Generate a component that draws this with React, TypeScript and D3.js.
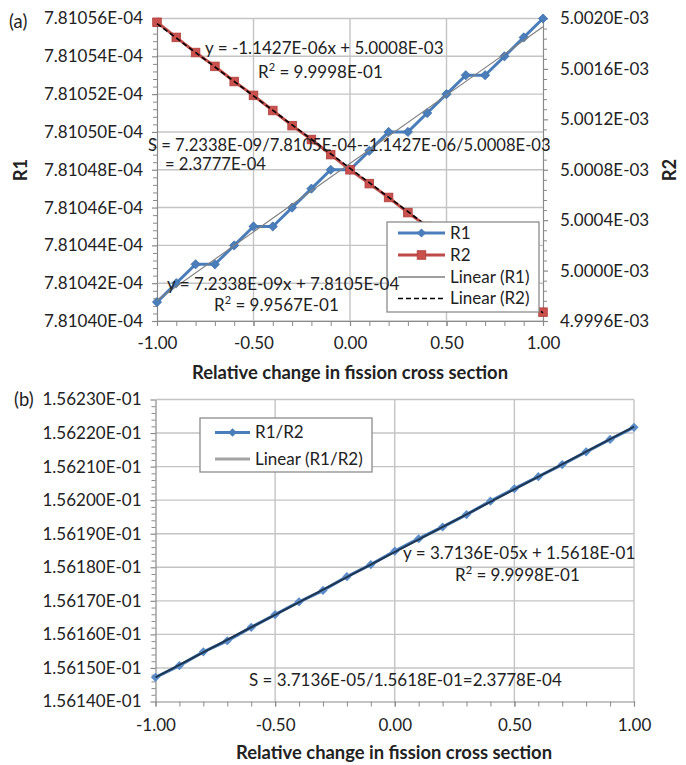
import React, { useEffect, useRef } from 'react';
import * as d3 from 'd3';

// relative change in fission cross section
const xValues = [-1.0, -0.9, -0.8, -0.7, -0.6, -0.5, -0.4, -0.3, -0.2, -0.1, 0.0, 0.1, 0.2, 0.3, 0.4, 0.5, 0.6, 0.7, 0.8, 0.9, 1.0];

const r1Values = [
  7.81041e-4, 7.81042e-4, 7.81043e-4, 7.81043e-4, 7.81044e-4, 7.81045e-4, 7.81045e-4,
  7.81046e-4, 7.81047e-4, 7.81048e-4, 7.81048e-4, 7.81049e-4, 7.8105e-4, 7.8105e-4,
  7.81051e-4, 7.81052e-4, 7.81053e-4, 7.81053e-4, 7.81054e-4, 7.81055e-4, 7.81056e-4,
];

const r2Values = [
  5.00197e-3, 5.00185e-3, 5.00173e-3, 5.00162e-3, 5.0015e-3, 5.00139e-3, 5.00127e-3,
  5.00115e-3, 5.00104e-3, 5.00092e-3, 5.0008e-3, 5.00069e-3, 5.00058e-3, 5.00046e-3,
  5.00035e-3, 5.00024e-3, 5.00012e-3, 5.00001e-3, 4.9999e-3, 4.99979e-3, 4.99967e-3,
];

const ratioValues = [
  1.561472e-1, 1.561507e-1, 1.561548e-1, 1.561581e-1, 1.561621e-1, 1.561659e-1, 1.561697e-1,
  1.561731e-1, 1.561772e-1, 1.561808e-1, 1.561848e-1, 1.561885e-1, 1.56192e-1, 1.561957e-1,
  1.561997e-1, 1.562034e-1, 1.56207e-1, 1.562106e-1, 1.562144e-1, 1.562181e-1, 1.562217e-1,
];

const xTickValues = [-1, -0.5, 0, 0.5, 1];
const r1TickValues = [7.8104e-4, 7.81042e-4, 7.81044e-4, 7.81046e-4, 7.81048e-4, 7.8105e-4, 7.81052e-4, 7.81054e-4, 7.81056e-4];
const r2TickValues = [4.9996e-3, 5.0e-3, 5.0004e-3, 5.0008e-3, 5.0012e-3, 5.0016e-3, 5.002e-3];
const ratioTickValues = [1.5614e-1, 1.5615e-1, 1.5616e-1, 1.5617e-1, 1.5618e-1, 1.5619e-1, 1.562e-1, 1.5621e-1, 1.5622e-1, 1.5623e-1];

const xTitle = 'Relative change in fission cross section';
const legendA = ['R1', 'R2', 'Linear (R1)', 'Linear (R2)'];
const legendB = ['R1/R2', 'Linear (R1/R2)'];

const eqR1 = 'y = 7.2338E-09x + 7.8105E-04';
const rsqR1 = '9.9567E-01';
const eqR2 = 'y = -1.1427E-06x + 5.0008E-03';
const rsqR2 = '9.9998E-01';
const sensA = ['S = 7.2338E-09/7.8105E-04--1.1427E-06/5.0008E-03', '= 2.3777E-04'];
const eqRatio = 'y = 3.7136E-05x + 1.5618E-01';
const rsqRatio = '9.9998E-01';
const sensB = 'S = 3.7136E-05/1.5618E-01=2.3778E-04';

const W = 686;
const H = 765;

const expLabel = (digits: number) => (v: number) => {
  const [m, e] = v.toExponential(digits).split('e');
  const n = +e;
  return `${m}E${n < 0 ? '-' : '+'}${String(Math.abs(n)).padStart(2, '0')}`;
};

// least squares fit, like Excel's linear trendline
const fit = (xs: number[], ys: number[]) => {
  const mx = d3.mean(xs) as number;
  const my = d3.mean(ys) as number;
  const sxy = d3.sum(xs, (x, i) => (x - mx) * (ys[i] - my));
  const sxx = d3.sum(xs, x => (x - mx) ** 2);
  const b = sxy / sxx;
  return (x: number) => my + b * (x - mx);
};

const minorTicks = (major: number[], n: number) => {
  const out: number[] = [];
  for (let i = 0; i < major.length - 1; i++) {
    for (let k = 1; k < n; k++) out.push(major[i] + (major[i + 1] - major[i]) * k / n);
  }
  return out;
};

const diamond = (r: number) => `M0,${-r}L${r},0L0,${r}L${-r},0Z`;

const App = () => {
  const svgRef = useRef<SVGSVGElement>(null);

  useEffect(() => {
    const svg = d3.select(svgRef.current);
    svg.selectAll('*').remove();

    const font = 'Lato, "Open Sans", sans-serif';
    const fs = 17;
    const titleFs = 18.4;
    const textColor = '#222';
    const gridColor = '#c4c4c4';
    const axisColor = '#8a8a8a';
    const blue = '#4a7ebb';
    const red = '#be4b48';

    svg.append('rect').attr('width', W).attr('height', H).attr('fill', '#fff');

    const styleAxis = (g: any) => {
      g.attr('font-family', font).attr('font-size', fs).attr('color', textColor);
      g.select('.domain').attr('stroke', axisColor).attr('stroke-width', 1.2);
      g.selectAll('.tick line').attr('stroke', axisColor).attr('stroke-width', 1.2);
    };
    const minorAxis = (g: any) => {
      g.select('.domain').remove();
      g.selectAll('.tick line').attr('stroke', axisColor).attr('stroke-width', 1);
    };

    const label = (g: any, x: number, y: number, str: string, anchor = 'start', bold = false, size = fs) =>
      g.append('text')
        .attr('x', x).attr('y', y).attr('dy', '0.35em')
        .attr('text-anchor', anchor)
        .attr('font-family', font).attr('font-size', size)
        .attr('font-weight', bold ? 700 : 400)
        .attr('fill', textColor)
        .text(str);

    const rsq = (g: any, x: number, y: number, value: string) => {
      const t = g.append('text')
        .attr('x', x).attr('y', y).attr('dy', '0.35em')
        .attr('font-family', font).attr('font-size', fs).attr('fill', textColor);
      t.append('tspan').text('R');
      t.append('tspan').attr('dy', -7).attr('font-size', 11).text('2');
      t.append('tspan').attr('dy', 7).text(` = ${value}`);
    };

    const pts = (ys: number[]) => xValues.map((x, i) => [x, ys[i]] as [number, number]);

    // ---------- panel (a) ----------
    const xA = d3.scaleLinear().domain([-1, 1]).range([157, 543]);
    const yR1 = d3.scaleLinear().domain([r1TickValues[0], r1TickValues[r1TickValues.length - 1]]).range([321, 18.5]);
    const yR2 = d3.scaleLinear().domain([r2TickValues[0], r2TickValues[r2TickValues.length - 1]]).range([321, 18.5]);
    const a = svg.append('g');

    a.selectAll('.hgrid').data(r1TickValues).join('line')
      .attr('x1', xA(-1)).attr('x2', xA(1))
      .attr('y1', d => yR1(d)).attr('y2', d => yR1(d))
      .attr('stroke', gridColor).attr('stroke-width', 1.4);
    a.selectAll('.vgrid').data([-0.5, 0, 0.5]).join('line')
      .attr('x1', d => xA(d)).attr('x2', d => xA(d))
      .attr('y1', yR1.range()[0]).attr('y2', yR1.range()[1])
      .attr('stroke', gridColor).attr('stroke-width', 1.4);

    a.append('g').attr('transform', `translate(${xA(-1)},0)`)
      .call(d3.axisLeft(yR1).tickValues(minorTicks(r1TickValues, 5)).tickSize(4).tickFormat(() => ''))
      .call(minorAxis);
    a.append('g').attr('transform', `translate(${xA(-1)},0)`)
      .call(d3.axisLeft(yR1).tickValues(r1TickValues).tickFormat(expLabel(5)).tickSizeInner(5).tickSizeOuter(0).tickPadding(9))
      .call(styleAxis);
    a.append('g').attr('transform', `translate(${xA(1)},0)`)
      .call(d3.axisRight(yR2).tickValues(minorTicks(r2TickValues, 5)).tickSize(4).tickFormat(() => ''))
      .call(minorAxis);
    a.append('g').attr('transform', `translate(${xA(1)},0)`)
      .call(d3.axisRight(yR2).tickValues(r2TickValues).tickFormat(expLabel(4)).tickSizeInner(5).tickSizeOuter(0).tickPadding(12))
      .call(styleAxis);
    a.append('g').attr('transform', `translate(0,${yR1.range()[0]})`)
      .call(d3.axisBottom(xA).tickValues(d3.range(-10, 11).map(i => i / 10)).tickSize(5).tickFormat(() => ''))
      .call(minorAxis);
    a.append('g').attr('transform', `translate(0,${yR1.range()[0]})`)
      .call(d3.axisBottom(xA).tickValues(xTickValues).tickFormat(d => (+d).toFixed(2)).tickSizeInner(5).tickSizeOuter(0).tickPadding(11))
      .call(styleAxis);

    const lineR1 = d3.line<[number, number]>().x(d => xA(d[0])).y(d => yR1(d[1]));
    const lineR2 = d3.line<[number, number]>().x(d => xA(d[0])).y(d => yR2(d[1]));

    a.append('path').datum(pts(r1Values)).attr('d', lineR1)
      .attr('fill', 'none').attr('stroke', blue).attr('stroke-width', 3).attr('stroke-linejoin', 'round');
    a.selectAll('.m1').data(pts(r1Values)).join('path')
      .attr('d', diamond(4.6)).attr('transform', d => `translate(${xA(d[0])},${yR1(d[1])})`)
      .attr('fill', blue).attr('stroke', '#3f6fa8').attr('stroke-width', 0.8);

    a.append('path').datum(pts(r2Values)).attr('d', lineR2)
      .attr('fill', 'none').attr('stroke', red).attr('stroke-width', 3).attr('stroke-linejoin', 'round');
    a.selectAll('.m2').data(pts(r2Values)).join('rect')
      .attr('x', d => xA(d[0]) - 4.3).attr('y', d => yR2(d[1]) - 4.3)
      .attr('width', 8.6).attr('height', 8.6)
      .attr('fill', '#c9504d').attr('stroke', '#b0403d').attr('stroke-width', 0.8);

    const t1 = fit(xValues, r1Values);
    const t2 = fit(xValues, r2Values);
    a.append('line')
      .attr('x1', xA(-1)).attr('x2', xA(1)).attr('y1', yR1(t1(-1))).attr('y2', yR1(t1(1)))
      .attr('stroke', '#7f7f7f').attr('stroke-width', 1.1);
    a.append('line')
      .attr('x1', xA(-1)).attr('x2', xA(1)).attr('y1', yR2(t2(-1))).attr('y2', yR2(t2(1)))
      .attr('stroke', '#000').attr('stroke-width', 1.6).attr('stroke-dasharray', '5,3');

    // legend (a)
    const lgA = a.append('g');
    lgA.append('rect').attr('x', 387).attr('y', 222).attr('width', 152).attr('height', 90)
      .attr('fill', '#fff').attr('stroke', '#8c8c8c').attr('stroke-width', 1.3);
    const lgAy = [233, 255, 277, 298.5];
    legendA.forEach((name, i) => {
      const y = lgAy[i];
      const ln = lgA.append('line').attr('x1', 398).attr('x2', 445).attr('y1', y).attr('y2', y);
      if (i === 0) ln.attr('stroke', blue).attr('stroke-width', 3);
      if (i === 1) ln.attr('stroke', red).attr('stroke-width', 3);
      if (i === 2) ln.attr('stroke', '#7f7f7f').attr('stroke-width', 1.3);
      if (i === 3) ln.attr('stroke', '#000').attr('stroke-width', 1.6).attr('stroke-dasharray', '5,3');
      if (i === 0) lgA.append('path').attr('d', diamond(4.6)).attr('transform', `translate(421.5,${y})`).attr('fill', blue);
      if (i === 1) lgA.append('rect').attr('x', 421.5 - 4.3).attr('y', y - 4.3).attr('width', 8.6).attr('height', 8.6)
        .attr('fill', '#c9504d').attr('stroke', '#b0403d').attr('stroke-width', 0.8);
      label(lgA, 450, y, name);
    });

    // annotations (a)
    label(a, 205, 48, eqR2);
    rsq(a, 258, 72, rsqR2);
    label(a, 148, 145.5, sensA[0], 'start', false, 16.6);
    label(a, 165, 164.5, sensA[1], 'start', false, 16.6);
    label(a, 167, 284, eqR1);
    rsq(a, 214, 305, rsqR1);

    label(a, 9, 22, '(a)', 'start', false, titleFs);
    label(a, 350, 373, xTitle, 'middle', true, titleFs);
    a.append('text').attr('transform', 'translate(21,170) rotate(-90)').attr('dy', '0.35em')
      .attr('text-anchor', 'middle').attr('font-family', font).attr('font-size', titleFs).attr('font-weight', 700)
      .attr('fill', textColor).text('R1');
    a.append('text').attr('transform', 'translate(670,170) rotate(-90)').attr('dy', '0.35em')
      .attr('text-anchor', 'middle').attr('font-family', font).attr('font-size', titleFs).attr('font-weight', 700)
      .attr('fill', textColor).text('R2');

    // ---------- panel (b) ----------
    const xB = d3.scaleLinear().domain([-1, 1]).range([155.5, 634]);
    const yB = d3.scaleLinear().domain([ratioTickValues[0], ratioTickValues[ratioTickValues.length - 1]]).range([701.5, 399.5]);
    const b = svg.append('g');

    b.selectAll('.hgrid').data(ratioTickValues.slice(1)).join('line')
      .attr('x1', xB(-1)).attr('x2', xB(1))
      .attr('y1', d => yB(d)).attr('y2', d => yB(d))
      .attr('stroke', gridColor).attr('stroke-width', 1.4);
    b.selectAll('.vgrid').data([-0.5, 0, 0.5, 1]).join('line')
      .attr('x1', d => xB(d)).attr('x2', d => xB(d))
      .attr('y1', yB.range()[0]).attr('y2', yB.range()[1])
      .attr('stroke', gridColor).attr('stroke-width', 1.4);

    b.append('g').attr('transform', `translate(${xB(-1)},0)`)
      .call(d3.axisLeft(yB).tickValues(minorTicks(ratioTickValues, 5)).tickSize(4).tickFormat(() => ''))
      .call(minorAxis);
    b.append('g').attr('transform', `translate(${xB(-1)},0)`)
      .call(d3.axisLeft(yB).tickValues(ratioTickValues).tickFormat(expLabel(5)).tickSizeInner(5).tickSizeOuter(0).tickPadding(9))
      .call(styleAxis);
    b.append('g').attr('transform', `translate(0,${yB.range()[0]})`)
      .call(d3.axisBottom(xB).tickValues(d3.range(-10, 11).map(i => i / 10)).tickSize(5).tickFormat(() => ''))
      .call(minorAxis);
    b.append('g').attr('transform', `translate(0,${yB.range()[0]})`)
      .call(d3.axisBottom(xB).tickValues(xTickValues).tickFormat(d => (+d).toFixed(2)).tickSizeInner(5).tickSizeOuter(0).tickPadding(12))
      .call(styleAxis);

    const lineB = d3.line<[number, number]>().x(d => xB(d[0])).y(d => yB(d[1]));
    b.append('path').datum(pts(ratioValues)).attr('d', lineB)
      .attr('fill', 'none').attr('stroke', blue).attr('stroke-width', 3.2).attr('stroke-linejoin', 'round');
    b.selectAll('.m3').data(pts(ratioValues)).join('path')
      .attr('d', diamond(4.6)).attr('transform', d => `translate(${xB(d[0])},${yB(d[1])})`)
      .attr('fill', '#5b8cc8');
    const t3 = fit(xValues, ratioValues);
    b.append('line')
      .attr('x1', xB(-1)).attr('x2', xB(1)).attr('y1', yB(t3(-1))).attr('y2', yB(t3(1)))
      .attr('stroke', '#1e3550').attr('stroke-width', 2);

    // legend (b)
    const lgB = b.append('g');
    lgB.append('rect').attr('x', 200).attr('y', 418).attr('width', 172).attr('height', 54)
      .attr('fill', '#fff').attr('stroke', '#8c8c8c').attr('stroke-width', 1.3);
    const lgBy = [432.5, 459];
    legendB.forEach((name, i) => {
      const y = lgBy[i];
      lgB.append('line').attr('x1', 215).attr('x2', 250).attr('y1', y).attr('y2', y)
        .attr('stroke', i === 0 ? blue : '#a3a3a3').attr('stroke-width', 3);
      if (i === 0) lgB.append('path').attr('d', diamond(4.2)).attr('transform', `translate(232.5,${y})`).attr('fill', blue);
      label(lgB, 255, y, name);
    });

    label(b, 403, 553, eqRatio);
    rsq(b, 455, 575, rsqRatio);
    label(b, 249, 680, sensB);

    label(b, 14, 400, '(b)', 'start', false, titleFs);
    label(b, 394, 753, xTitle, 'middle', true, titleFs);
  }, []);

  return (
    <svg
      ref={svgRef}
      width={W}
      height={H}
      style={{ position: 'absolute', left: 0, top: 0, display: 'block' }}
    />
  );
};

export default App;
